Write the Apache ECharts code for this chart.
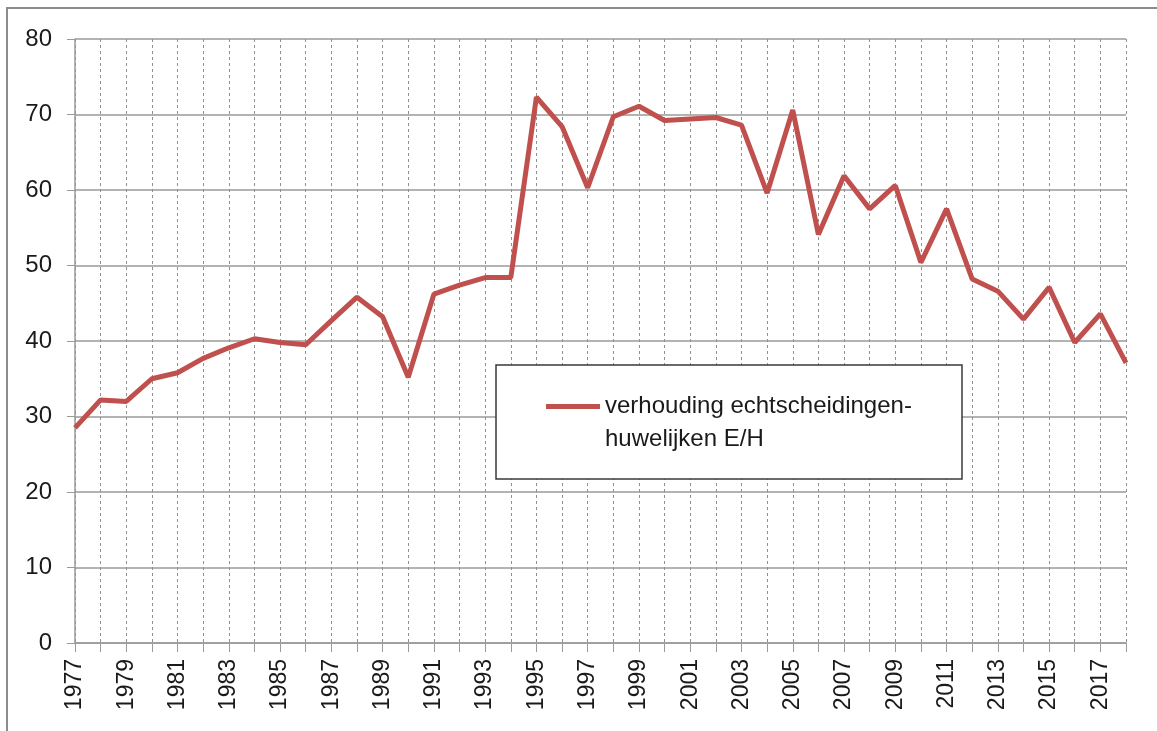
<!DOCTYPE html>
<html>
<head>
<meta charset="utf-8">
<script src="https://cdn.jsdelivr.net/npm/echarts@6/dist/echarts.min.js"></script>
<style>
  html, body { margin: 0; padding: 0; background: #fff; }
  #chart { width: 1157px; height: 731px; }
</style>
</head>
<body>
<div id="chart"></div>
<script>
  // jaren
  var years = ['1977','1978','1979','1980','1981','1982','1983','1984','1985','1986',
    '1987','1988','1989','1990','1991','1992','1993','1994','1995','1996',
    '1997','1998','1999','2000','2001','2002','2003','2004','2005','2006',
    '2007','2008','2009','2010','2011','2012','2013','2014','2015','2016',
    '2017','2018'];
  // verhouding E/H
  var ratioEH = [28.5, 32.2, 32.0, 35.0, 35.8, 37.7, 39.1, 40.3, 39.8, 39.5,
    42.7, 45.8, 43.2, 35.2, 46.2, 47.4, 48.4, 48.4, 72.3, 68.4,
    60.3, 69.7, 71.1, 69.2, 69.4, 69.6, 68.6, 59.6, 70.6, 54.1,
    61.9, 57.5, 60.6, 50.4, 57.5, 48.2, 46.6, 42.9, 47.1, 39.8,
    43.6, 37.1];
  var seriesName = 'verhouding echtscheidingen-\nhuwelijken E/H';

  var myChart = echarts.init(document.getElementById('chart'));
  myChart.setOption({
    animation: false,
    textStyle: { fontFamily: 'Liberation Sans' },
    grid: { left: 75, right: 31, top: 39, bottom: 88, containLabel: false },
    graphic: [
      {
        type: 'rect', z: -1,
        shape: { x: 7, y: 8, width: 1200, height: 800 },
        style: { fill: 'none', stroke: '#8c8c8c', lineWidth: 2 }
      },
      {
        type: 'rect', z: 10,
        shape: { x: 496, y: 365, width: 466, height: 114 },
        style: { fill: '#fff', stroke: '#3a3a3a', lineWidth: 1.5 }
      }
    ],
    legend: {
      z: 20,
      left: 546,
      top: 357,
      padding: 0,
      icon: 'rect',
      itemWidth: 54,
      itemHeight: 5,
      selectedMode: false,
      data: [seriesName],
      // lege eerste regel zodat het lijntje bij de eerste tekstregel staat
      formatter: function (name) { return '\n' + name; },
      textStyle: {
        fontSize: 24,
        color: '#1a1a1a',
        lineHeight: 33
      }
    },
    xAxis: {
      type: 'category',
      data: years,
      boundaryGap: false,
      axisLine: { lineStyle: { color: '#9a9a9a', width: 1.5 } },
      axisTick: { show: true, interval: 0, length: 9, lineStyle: { color: '#9a9a9a' } },
      axisLabel: { interval: 1, rotate: 90, fontSize: 23, color: '#1a1a1a', margin: 16 },
      splitLine: { show: true, interval: 0, lineStyle: { color: '#8f8f8f', type: [3, 3], width: 1 } }
    },
    yAxis: {
      type: 'value',
      min: 0,
      max: 80,
      interval: 10,
      axisLine: { show: true, lineStyle: { color: '#9a9a9a', width: 1.5 } },
      axisTick: { show: true, length: 8, lineStyle: { color: '#9a9a9a' } },
      axisLabel: { fontSize: 24, color: '#1a1a1a', margin: 23 },
      splitLine: { show: true, lineStyle: { color: '#9a9a9a', width: 1.5 } }
    },
    series: [
      {
        name: seriesName,
        type: 'line',
        data: ratioEH,
        showSymbol: false,
        symbol: 'none',
        color: '#c0504d',
        lineStyle: { color: '#c0504d', width: 5 }
      }
    ]
  });
</script>
</body>
</html>
